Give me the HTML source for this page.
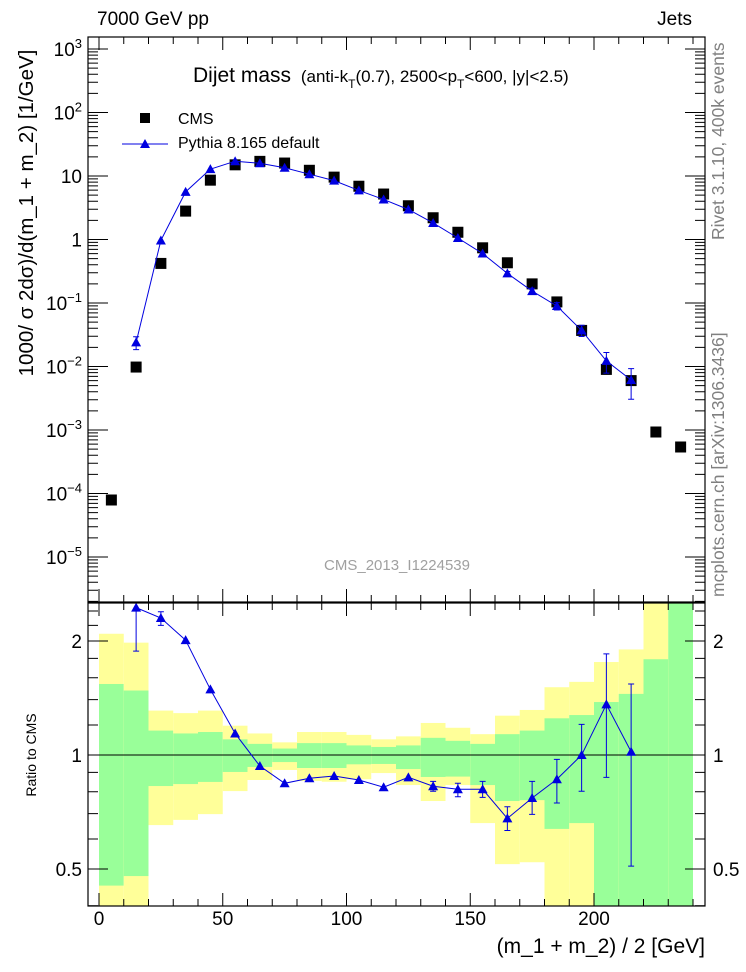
<!DOCTYPE html>
<html><head><meta charset="utf-8"><style>
html,body{margin:0;padding:0;background:#fff;}
svg{display:block;font-family:"Liberation Sans",sans-serif;}
</style></head><body>
<svg id="chart" width="746" height="972" viewBox="0 0 746 972" xmlns="http://www.w3.org/2000/svg">
<text x="97" y="25" font-size="19">7000 GeV pp</text>
<text x="692" y="25" font-size="19" text-anchor="end">Jets</text>
<text transform="translate(724,240) rotate(-90)" font-size="17.5" fill="#808080">Rivet 3.1.10,  400k events</text>
<text transform="translate(724,597) rotate(-90)" font-size="17.5" fill="#808080">mcplots.cern.ch [arXiv:1306.3436]</text>
<text x="193" y="82" font-size="21">Dijet mass <tspan font-size="17" dx="4">(anti-k</tspan><tspan font-size="12" dy="6">T</tspan><tspan font-size="17" dy="-6">(0.7), 2500&lt;p</tspan><tspan font-size="12" dy="6">T</tspan><tspan font-size="17" dy="-6">&lt;600, |y|&lt;2.5)</tspan></text>
<text transform="translate(33,213) rotate(-90)" font-size="20.5" text-anchor="middle">1000/ σ 2dσ)/d(m_1 + m_2) [1/GeV]</text>
<text transform="translate(36,755) rotate(-90)" font-size="14" text-anchor="middle">Ratio to CMS</text>
<text x="705" y="953" font-size="21" text-anchor="end">(m_1 + m_2) / 2 [GeV]</text>
<text x="397" y="570" font-size="15" fill="#a0a0a0" text-anchor="middle">CMS_2013_I1224539</text>
<g>
<rect x="140" y="113" width="10" height="10" fill="#000"/>
<text x="178" y="124" font-size="16">CMS</text>
<line x1="122" y1="144" x2="168" y2="144" stroke="#0000e0" stroke-width="1"/>
<polygon points="145,139 150,148 140,148" fill="#0000e0"/>
<text x="178" y="148" font-size="16">Pythia 8.165 default</text>
</g>
<g id="bands"></g>
<g id="marks"></g>
<g id="axes"></g>
</svg>
<script>
const xCenters=[5,15,25,35,45,55,65,75,85,95,105,115,125,135,145,155,165,175,185,195,205,215,225,235];
const cmsValues=[7.9e-5,0.0098,0.42,2.8,8.6,15,17,16,12.3,9.6,6.9,5.2,3.4,2.2,1.3,0.74,0.43,0.2,0.104,0.037,0.009,0.006,0.00093,0.00054];
const pythiaX=[15,25,35,45,55,65,75,85,95,105,115,125,135,145,155,165,175,185,195,205,215];
const pythiaRatio=[2.45,2.30,2.01,1.49,1.14,0.935,0.842,0.868,0.88,0.859,0.822,0.873,0.827,0.812,0.812,0.68,0.77,0.863,1.0,1.36,1.02];
const pythiaRatioLo=[1.88,2.20,2.01,1.49,1.14,0.935,0.842,0.868,0.88,0.859,0.822,0.873,0.802,0.776,0.773,0.632,0.697,0.747,0.802,0.873,0.509];
const pythiaRatioHi=[3.0,2.39,2.01,1.49,1.14,0.935,0.842,0.868,0.88,0.859,0.822,0.873,0.852,0.842,0.852,0.730,0.852,0.974,1.205,1.85,1.54];
const bandYellowHi=[2.09,1.98,1.31,1.29,1.31,1.195,1.14,1.08,1.15,1.15,1.13,1.10,1.12,1.215,1.18,1.135,1.27,1.315,1.51,1.56,1.76,1.90,3,3];
const bandGreenHi=[1.54,1.48,1.16,1.14,1.15,1.10,1.07,1.04,1.075,1.075,1.06,1.05,1.06,1.11,1.09,1.07,1.135,1.16,1.25,1.275,1.38,1.45,1.79,3];
const bandGreenLo=[0.452,0.479,0.828,0.838,0.849,0.902,0.93,0.958,0.924,0.924,0.945,0.947,0.918,0.875,0.877,0.833,0.756,0.76,0.638,0.661,0.35,0.35,0.35,0.35];
const bandYellowLo=[0.35,0.35,0.653,0.674,0.698,0.803,0.859,0.913,0.854,0.85,0.863,0.896,0.833,0.756,0.833,0.661,0.515,0.521,0.35,0.35,0.35,0.35,0.35,0.35];
const xTicks=[0,50,100,150,200];
const yTicksMain=[3,2,1,0,-1,-2,-3,-4,-5];
const yTicksRatio=[2,1,0.5];

const NS='http://www.w3.org/2000/svg';
const L=88,R=705,T1=37,B1=602,T2=603,B2=906;
const X=v=>99+v*2.475;
const Ym=v=>49+63.5*(3-Math.log10(v));
const Yr=v=>755-114*Math.log2(v);
const cl=(y,a,b)=>Math.max(a,Math.min(b,y));
function mk(p,t,a){const e=document.createElementNS(NS,t);for(const k in a)e.setAttribute(k,a[k]);p.appendChild(e);return e;}
const bands=document.getElementById('bands'),marks=document.getElementById('marks'),axes=document.getElementById('axes');

xCenters.forEach((xc,i)=>{
 const x0=X(xc-5),w=X(xc+5)-x0;
 const yt=cl(Yr(bandYellowHi[i]),T2,B2),yb=cl(Yr(bandYellowLo[i]),T2,B2);
 const y=mk(bands,'rect',{x:x0,y:yt,width:w,height:yb-yt,fill:'#ffff99'});
 
 
 const gt=cl(Yr(bandGreenHi[i]),T2,B2),gb=cl(Yr(bandGreenLo[i]),T2,B2);
 const g=mk(bands,'rect',{x:x0,y:gt,width:w,height:gb-gt,fill:'#99ff99'});
 
 
});
const ref=mk(bands,'line',{x1:L,x2:R,y1:Yr(1),y2:Yr(1),stroke:'#000','stroke-width':1});



xCenters.forEach((xc,i)=>{
 const r=mk(marks,'rect',{x:X(xc)-5.5,y:Ym(cmsValues[i])-5.5,width:11,height:11,fill:'#000'});
 
 
});
const cmsAt=x=>cmsValues[xCenters.indexOf(x)];
const pts=pythiaX.map((x,i)=>[X(x),Ym(cmsAt(x)*pythiaRatio[i])]);
const pl=mk(marks,'polyline',{points:pts.map(p=>p.join(',')).join(' '),fill:'none',stroke:'#0000e0','stroke-width':1});


const rpts=pythiaX.map((x,i)=>[X(x),cl(Yr(pythiaRatio[i]),T2,B2)]);
const rl=mk(marks,'polyline',{points:rpts.map(p=>p.join(',')).join(' '),fill:'none',stroke:'#0000e0','stroke-width':1});


function tri(px,py,name){const t=mk(marks,'polygon',{points:`${px},${py-5} ${px+5},${py+4} ${px-5},${py+4}`,fill:'#0000e0'});
 
 }
function err(px,y1,y2,name){if(Math.abs(y1-y2)<3)return;
 const g=mk(marks,'path',{d:`M${px},${y1}V${y2}M${px-3},${y1}H${px+3}M${px-3},${y2}H${px+3}`,stroke:'#0000e0','stroke-width':1,fill:'none'});
 
 }
pythiaX.forEach((x,i)=>{
 const c=cmsAt(x);
 err(X(x),Ym(c*pythiaRatioHi[i]),Ym(c*pythiaRatioLo[i]),'pythia-error-bar');
 tri(X(x),Ym(c*pythiaRatio[i]),'pythia-point');
 err(X(x),cl(Yr(pythiaRatioHi[i]),T2,B2),cl(Yr(pythiaRatioLo[i]),T2,B2),'pythia-ratio-error-bar');
 tri(X(x),cl(Yr(pythiaRatio[i]),T2,B2),'pythia-ratio-point');
});

[[T1,B1,'main-frame'],[T2,B2,'ratio-frame']].forEach(([t,b,n])=>{
 const f=mk(axes,'rect',{x:L,y:t,width:R-L,height:b-t,fill:'none',stroke:'#000','stroke-width':1.2});
 
 
});
let d='';
for(let v=0;v<=245;v+=10){const x=X(v);if(x>R)break;const big=v%50===0;const l=big?13:7;
 d+=`M${x},${T1}v${l}M${x},${B1}v${-l}M${x},${T2}v${l}M${x},${B2}v${-l}`;}
for(let e=-6;e<=3;e++){for(let m=1;m<10;m++){const y=Ym(m*Math.pow(10,e));if(y<T1||y>B1)continue;const l=m===1?20:10;d+=`M${L},${y}h${l}M${R},${y}h${-l}`;}}
[0.4,0.5,0.6,0.7,0.8,0.9,1,1.2,1.4,1.6,1.8,2,2.2,2.4].forEach(v=>{const y=Yr(v);if(y<T2||y>B2)return;const l=(v===1||v===2||v===0.5)?20:10;d+=`M${L},${y}h${l}M${R},${y}h${-l}`;});
const tk=mk(axes,'path',{d:d,stroke:'#000','stroke-width':1,fill:'none'});


xTicks.forEach(v=>{const t=mk(axes,'text',{x:X(v),y:925,'font-size':19,'text-anchor':'middle'});t.textContent=v;
 
 });
yTicksMain.forEach(e=>{const y=Ym(Math.pow(10,e))+7;const t=mk(axes,'text',{x:82,y:y,'font-size':19,'text-anchor':'end'});
 if(e===0)t.textContent='1';else if(e===1)t.textContent='10';
 else{t.textContent='10';const s=mk(t,'tspan',{dy:-8,'font-size':13});s.textContent=(e<0?'\u2212':'')+Math.abs(e);}
 
 });
yTicksRatio.forEach(v=>{[[82,'end'],[713,'start']].forEach(([x,a])=>{const t=mk(axes,'text',{x:x,y:Yr(v)+7,'font-size':19,'text-anchor':a});t.textContent=v;
 
 });});
</script>
</body></html>
